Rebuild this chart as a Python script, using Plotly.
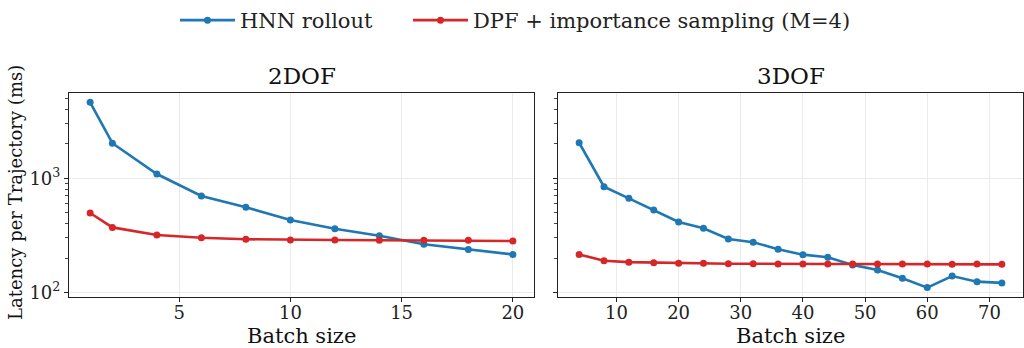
import plotly.graph_objects as go

# ---- data ----
batch_2dof = [1, 2, 4, 6, 8, 10, 12, 14, 16, 18, 20]
hnn_2dof = [4640, 2030, 1090, 700, 557, 431, 361, 314, 264, 237, 215]
dpf_2dof = [496, 371, 318, 301, 292, 288, 288, 286, 286, 286, 282]

batch_3dof = [4, 8, 12, 16, 20, 24, 28, 32, 36, 40, 44, 48, 52, 56, 60, 64, 68, 72]
hnn_3dof = [2050, 844, 667, 527, 414, 364, 294, 275, 239, 214, 203, 174, 157, 133, 110, 139, 124, 121]
dpf_3dof = [215, 189, 184, 182, 180, 180, 178, 178, 177, 177, 177, 177, 177, 177, 177, 176, 177, 176]

series_names = ["HNN rollout", "DPF + importance sampling (M=4)"]
panel_titles = ["2DOF", "3DOF"]
x_ticks_2dof = [5, 10, 15, 20]
x_ticks_3dof = [10, 20, 30, 40, 50, 60, 70]
y_major = [100, 1000]
y_major_text = ["10<sup>2</sup>", "10<sup>3</sup>"]
y_minor = [200, 300, 400, 500, 600, 700, 800, 900, 2000, 3000, 4000, 5000]

BLUE = "#1f77b4"
RED = "#d62728"
FONT = "DejaVu Serif"
W, H = 1024, 348

fig = go.Figure()

def add(x, y, name, color, xa, ya, show, legend):
    fig.add_trace(go.Scatter(
        x=x, y=y, mode="lines+markers", name=name,
        line=dict(color=color, width=2.6),
        marker=dict(color=color, size=7),
        xaxis=xa, yaxis=ya, showlegend=show, legendgroup=name, legend=legend))

add(batch_2dof, hnn_2dof, series_names[0], BLUE, "x", "y", True, "legend")
add(batch_2dof, dpf_2dof, series_names[1], RED, "x", "y", True, "legend2")
add(batch_3dof, hnn_3dof, series_names[0], BLUE, "x2", "y2", False, "legend")
add(batch_3dof, dpf_3dof, series_names[1], RED, "x2", "y2", False, "legend2")

def px_x(p):
    return p / W

def px_y(p):
    return 1 - p / H

yd = [px_y(297), px_y(93)]
common_axis = dict(
    showline=True, linecolor="#222", linewidth=1.2, mirror=True,
    ticks="outside", ticklen=4, tickwidth=1, tickcolor="#222",
    showgrid=True, gridcolor="#ebebeb", gridwidth=1, zeroline=False,
    tickfont=dict(family=FONT, size=18, color="#222"),
    automargin=False,
)

xaxis_common = dict(common_axis, ticklabelstandoff=-5)

yaxis_common = dict(common_axis, type="log", range=[1.959, 3.748],
                    tickvals=y_major, ticktext=y_major_text,
                    minor=dict(tickvals=y_minor, ticks="outside", ticklen=2.5,
                               tickcolor="#444", showgrid=False))

legend_common = dict(orientation="h", xref="paper", yref="paper",
                     y=1.0, yanchor="top", xanchor="left",
                     font=dict(family=FONT, size=21, color="#222"),
                     bgcolor="rgba(0,0,0,0)", itemwidth=55)

fig.update_layout(
    width=W, height=H,
    margin=dict(l=0, r=0, t=0, b=0),
    paper_bgcolor="white", plot_bgcolor="white",
    font=dict(family=FONT, color="#222"),
    xaxis=dict(xaxis_common, domain=[px_x(69), px_x(534)], range=[0.05, 20.95],
               tickvals=x_ticks_2dof, anchor="y"),
    xaxis2=dict(xaxis_common, domain=[px_x(558), px_x(1023)], range=[0.6, 75.4],
                tickvals=x_ticks_3dof, anchor="y2"),
    yaxis=dict(yaxis_common, domain=yd, anchor="x"),
    yaxis2=dict(yaxis_common, domain=yd, anchor="x2", matches="y", showticklabels=False),
    legend=dict(legend_common, x=px_x(175)),
    legend2=dict(legend_common, x=px_x(408)),
    showlegend=True,
)

annotations = []
for title, (a, b) in zip(panel_titles, [(69, 534), (558, 1023)]):
    annotations.append(dict(text=title, x=px_x((a + b) / 2), y=px_y(76), xref="paper", yref="paper",
                            xanchor="center", yanchor="middle", showarrow=False,
                            font=dict(family=FONT, size=23, color="#111")))
    annotations.append(dict(text="Batch size", x=px_x((a + b) / 2), y=px_y(336), xref="paper", yref="paper",
                            xanchor="center", yanchor="middle", showarrow=False,
                            font=dict(family=FONT, size=21, color="#111")))
annotations.append(dict(text="Latency per Trajectory (ms)", x=px_x(15), y=px_y(193), xref="paper",
                        yref="paper", xanchor="center", yanchor="middle", textangle=-90,
                        showarrow=False, font=dict(family=FONT, size=18, color="#111")))
fig.update_layout(annotations=annotations)

fig.write_html("out.html")
